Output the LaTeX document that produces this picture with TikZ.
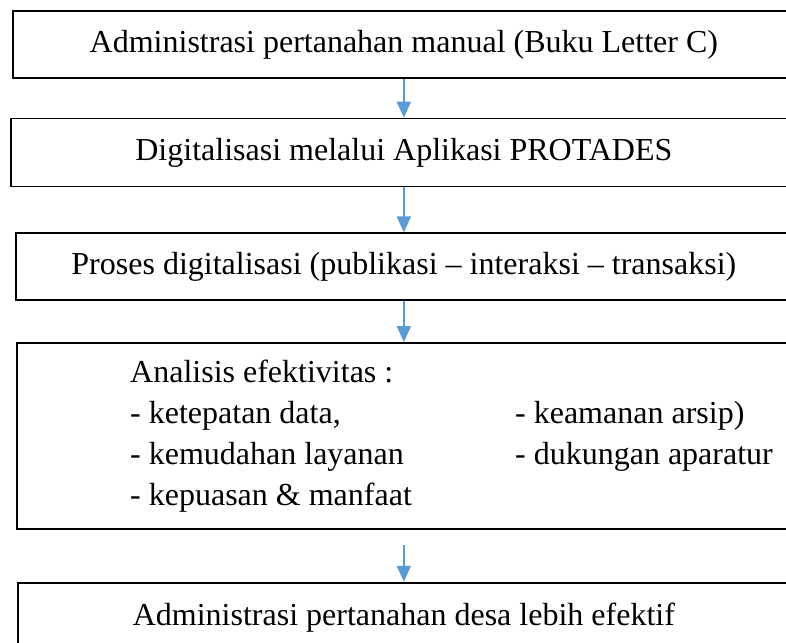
\documentclass[tikz,border=0pt]{standalone}
\usepackage{fontspec}
\setmainfont{Liberation Serif}
\definecolor{arrowblue}{RGB}{91,155,213}
\usetikzlibrary{arrows.meta}
\usetikzlibrary{positioning}
\tikzset{
  stage/.style={draw=black, line width=1.7pt, inner sep=0,
    font=\fontsize{32}{41}\selectfont},
  arrow/.style={-{Triangle[width=14pt,length=16pt]}, draw=arrowblue,
    fill=arrowblue, line width=1.8pt}
}

\begin{document}
\begin{tikzpicture}[x=1pt,y=-1pt]
  \clip (0,0) rectangle (786,642);

  % the five stages, top to bottom
  \node (manual) [stage, anchor=north west, minimum width=782pt,
    minimum height=67pt] at (12,10) {Administrasi pertanahan manual (Buku Letter C)};
  \node (digital) [stage, below=39pt of manual, minimum width=786pt,
    minimum height=68pt] {Digitalisasi melalui Aplikasi PROTADES};
  \node (proses) [stage, below=45pt of digital, minimum width=776pt,
    minimum height=67pt] {Proses digitalisasi (publikasi -- interaksi -- transaksi)};
  \node (efek) [stage, below=41pt of proses, minimum width=774pt,
    minimum height=186pt] {};
  \node (kriteria) [right=114pt of efek.west, anchor=west, inner sep=0,
    font=\fontsize{32}{41}\selectfont] {%
    \begin{tabular}{@{}p{385pt}@{}l@{}}
      Analisis efektivitas : & \\
      - ketepatan data, & - keamanan arsip) \\
      - kemudahan layanan & - dukungan aparatur \\
      - kepuasan \& manfaat & \\
    \end{tabular}};
  \node (hasil) [stage, below=52pt of efek, minimum width=772pt,
    minimum height=70pt] {Administrasi pertanahan desa lebih efektif};

  % flow
  \draw [arrow] (manual) -- (digital);
  \draw [arrow] (digital) -- (proses);
  \draw [arrow] (proses) -- (efek);
  \draw [arrow, shorten <=15pt] (efek) -- (hasil);
\end{tikzpicture}
\end{document}
